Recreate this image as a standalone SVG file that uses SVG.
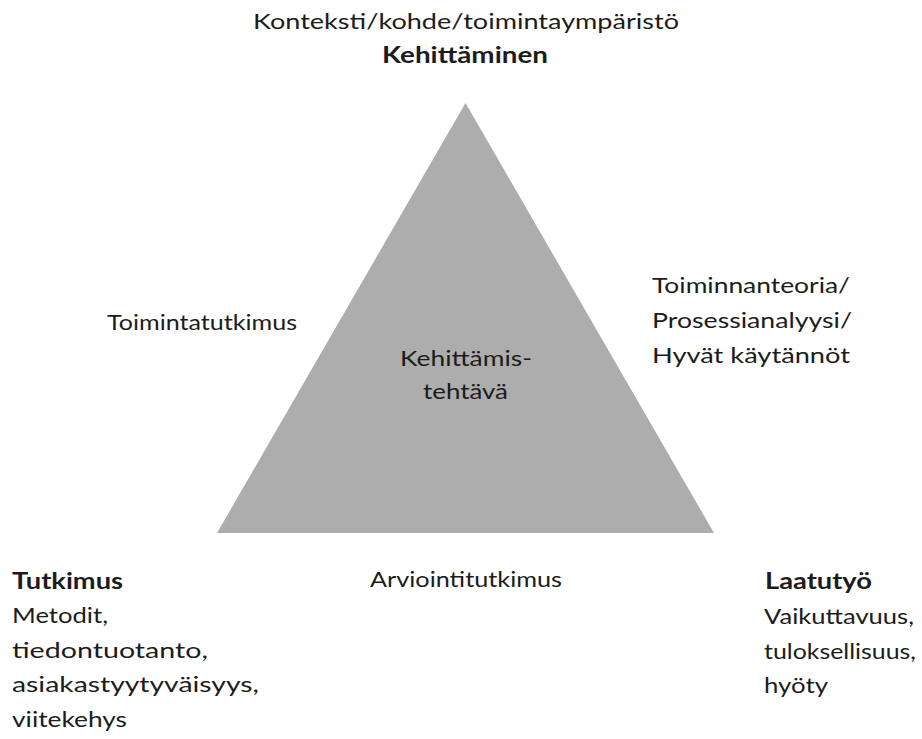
<svg xmlns="http://www.w3.org/2000/svg" width="922" height="739" viewBox="0 0 922 739">
<style>
text{font-family:Lato,"Open Sans","Liberation Sans",sans-serif;font-size:22px;fill:#1c1c1c}
.b{font-weight:bold}
.m{text-anchor:middle}
</style>
<rect width="922" height="739" fill="#ffffff"/>
<g id="triangle">
<polygon points="465.5,103 217,533 714,533" fill="#adadad"/>
<text class="m" x="466" y="366" textLength="132" lengthAdjust="spacingAndGlyphs">Kehittämis-</text>
<text class="m" x="465.5" y="399" textLength="85" lengthAdjust="spacingAndGlyphs">tehtävä</text>
</g>
<g id="top-label">
<text class="m" x="466" y="29" textLength="426" lengthAdjust="spacingAndGlyphs">Konteksti/kohde/toimintaympäristö</text>
<text class="m b" x="465" y="63" textLength="166" lengthAdjust="spacingAndGlyphs">Kehittäminen</text>
</g>
<g id="left-side-label">
<text x="107" y="330" textLength="190" lengthAdjust="spacingAndGlyphs">Toimintatutkimus</text>
</g>
<g id="right-side-label">
<text x="652" y="293" textLength="198" lengthAdjust="spacingAndGlyphs">Toiminnanteoria/</text>
<text x="652" y="328" textLength="200" lengthAdjust="spacingAndGlyphs">Prosessianalyysi/</text>
<text x="652" y="363" textLength="198" lengthAdjust="spacingAndGlyphs">Hyvät käytännöt</text>
</g>
<g id="bottom-label">
<text class="m" x="466" y="587" textLength="192" lengthAdjust="spacingAndGlyphs">Arviointitutkimus</text>
</g>
<g id="tutkimus">
<text class="b" x="12" y="589" textLength="111" lengthAdjust="spacingAndGlyphs">Tutkimus</text>
<text x="12" y="623" textLength="96" lengthAdjust="spacingAndGlyphs">Metodit,</text>
<text x="12" y="658" textLength="196" lengthAdjust="spacingAndGlyphs">tiedontuotanto,</text>
<text x="12" y="692" textLength="247" lengthAdjust="spacingAndGlyphs">asiakastyytyväisyys,</text>
<text x="12" y="727" textLength="115" lengthAdjust="spacingAndGlyphs">viitekehys</text>
</g>
<g id="laatutyo">
<text class="b" x="765" y="589" textLength="107" lengthAdjust="spacingAndGlyphs">Laatutyö</text>
<text x="764" y="624" textLength="150" lengthAdjust="spacingAndGlyphs">Vaikuttavuus,</text>
<text x="764" y="659" textLength="152" lengthAdjust="spacingAndGlyphs">tuloksellisuus,</text>
<text x="764" y="693" textLength="64" lengthAdjust="spacingAndGlyphs">hyöty</text>
</g>
</svg>
